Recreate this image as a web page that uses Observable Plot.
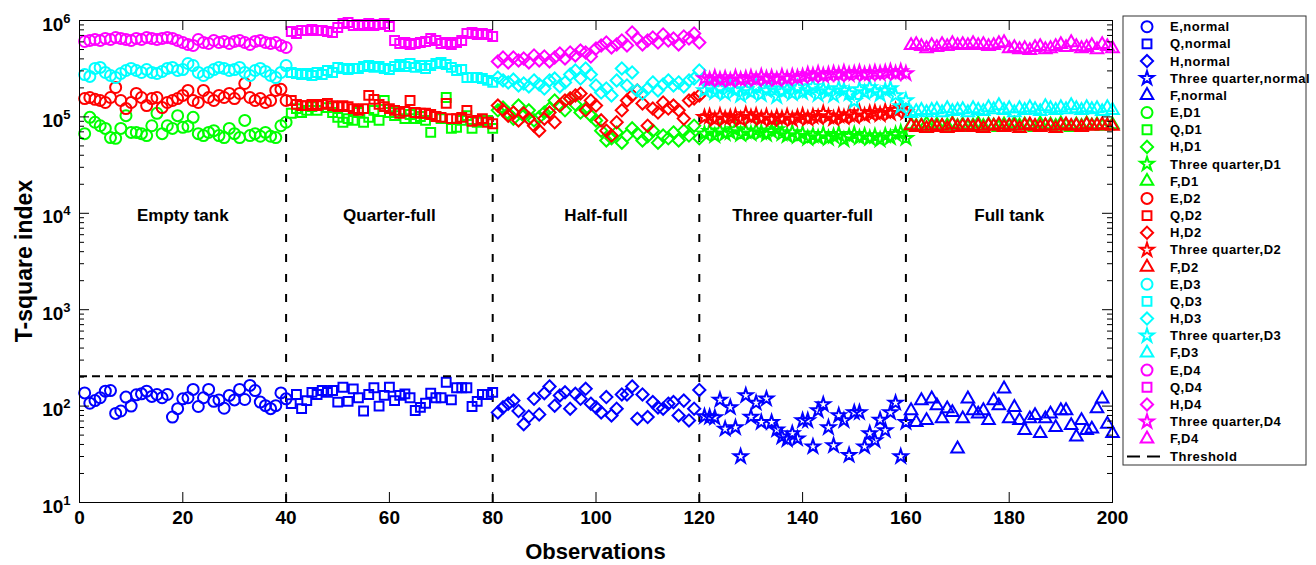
<!DOCTYPE html>
<html>
<head>
<meta charset="utf-8">
<script src="https://cdn.jsdelivr.net/npm/d3@7"></script>
<script src="https://cdn.jsdelivr.net/npm/@observablehq/plot@0.6"></script>
<style>
  body { margin: 0; background: #fff; }
  #chart svg { display: block; }
</style>
</head>
<body>
<div id="chart"></div>
<script>
// ---------------- categories / labels ----------------
const stateNames = ["E", "Q", "H", "Three quarter", "F"];
const condNames = ["normal", "D1", "D2", "D3", "D4"];
const condColors = ["#0000ff", "#00ff00", "#ff0000", "#00ffff", "#ff00ff"];
const regionLabels = ["Empty tank", "Quarter-full", "Half-full", "Three quarter-full", "Full tank"];
const pointsPerState = 40;
const boundaries = [40, 80, 120, 160];
const threshold = 204;
const xTickValues = [0, 20, 40, 60, 80, 100, 120, 140, 160, 180, 200];
const yTickValues = [1e1, 1e2, 1e3, 1e4, 1e5, 1e6];

// ---------------- normal condition (T-square values) ----------------
const eNormal  = [137,107,114,122,143,145,84,89,124,100,131,134,143,126,132,122,132,77,94,119,122,149,99,122,149,112,116,95,129,116,149,117,164,145,110,101,94,101,137,119];
const qNormal  = [106,132,94,114,139,132,145,139,145,110,157,112,151,122,89,132,155,100,129,157,114,129,134,122,90,97,107,136,122,122,177,116,155,155,155,99,112,132,132,139];
const hNormal  = [86,97,106,114,89,65,78,119,82,136,160,101,129,139,94,134,119,151,106,97,86,124,80,94,132,132,160,74,132,77,110,97,94,106,110,80,114,71,94,147];
const tqNormal = [78,77,76,116,58,97,60,30,129,77,108,68,119,68,57,48,45,52,46,71,71,38,90,104,60,39,80,71,31,86,86,38,52,44,72,56,86,108,30,68];
const fNormal  = [90,68,114,71,119,101,74,94,86,36,74,119,90,83,90,71,114,101,151,74,97,71,56,74,80,52,74,83,60,90,90,63,48,71,56,58,94,119,65,52];

// ---------------- fault conditions (T-square values, in thousands) ----------------
const eD1K  = [67,99,88,81,76,61,60,76,103,69,69,67,64,81,109,67,81,76,103,78,80,99,67,64,69,72,64,61,76,67,61,92,64,67,63,69,63,61,81,88];
const qD1K  = [109,122,111,117,128,117,135,125,111,99,88,96,92,111,88,99,117,92,148,111,103,111,96,106,96,101,92,69,101,96,159,76,78,92,103,76,88,92,92,76];
const hD1K  = [117,125,109,96,131,103,117,92,99,111,122,148,131,117,155,135,111,122,103,92,72,57,60,69,54,64,76,67,57,63,72,54,64,60,69,57,72,64,81,60];
const tqD1K = [67,71,64,72,67,69,74,66,71,67,72,69,66,71,74,67,64,69,63,67,60,64,61,66,60,63,66,58,63,66,61,64,60,63,58,64,61,66,69,60];
const fD1K  = [83,80,81,85,78,83,80,81,85,80,83,78,81,85,80,83,81,78,83,80,85,81,83,80,78,85,81,83,80,85,81,78,83,80,85,81,83,80,81,83];

const eD2K  = [155,159,152,148,141,159,202,148,122,141,175,159,131,155,159,125,141,148,155,167,188,148,141,188,159,148,167,159,175,155,175,222,159,148,155,141,148,188,193,148];
const qD2K  = [148,135,131,131,135,131,135,138,131,128,131,128,122,117,122,167,152,135,128,122,117,109,114,148,111,109,109,106,101,99,138,96,96,99,117,90,92,96,88,85];
const hD2K  = [131,117,103,111,92,109,96,81,72,96,111,88,131,148,155,167,175,117,148,131,92,72,64,88,117,148,167,188,138,81,122,111,141,122,131,117,96,148,155,167];
const tqD2K = [99,101,94,103,96,99,101,94,106,99,103,96,101,94,99,96,101,94,99,103,96,101,99,109,101,96,103,99,106,101,111,103,109,111,106,114,109,117,122,111];
const fD2K  = [81,78,80,76,81,78,80,76,83,78,80,81,78,80,76,81,80,83,78,81,80,76,81,83,80,78,81,80,76,81,83,80,81,78,83,80,81,83,81,80];

const eD3K  = [275,263,318,326,289,269,256,282,303,318,303,289,310,289,282,296,318,326,303,310,358,341,289,269,289,310,326,318,303,310,326,289,269,303,318,296,269,256,289,341];
const qD3K  = [289,282,275,282,269,289,275,303,289,326,318,310,318,318,333,341,326,333,318,310,333,350,333,358,326,341,318,341,358,367,350,326,303,310,256,256,256,250,239,228];
const hD3K  = [256,239,228,244,212,222,207,239,217,197,239,250,207,228,275,303,250,318,275,212,179,197,167,239,318,212,289,188,175,197,228,188,217,239,212,228,207,239,250,303];
const tqD3K = [188,202,179,197,175,207,188,167,193,179,207,171,188,197,163,184,193,175,202,179,188,207,171,193,184,167,197,188,175,145,193,179,202,184,171,188,197,167,128,148];
const fD3K  = [109,114,117,111,117,119,111,122,114,117,119,111,122,117,114,125,119,131,117,122,111,122,117,125,119,114,128,122,117,125,119,131,122,117,125,119,122,114,125,117];

const eD4K  = [606,620,635,620,651,635,666,651,635,620,651,635,666,651,635,651,666,651,620,591,564,551,635,591,577,620,591,606,577,606,620,591,564,606,620,591,577,591,551,525];
const qD4K  = [769,733,788,788,807,788,788,769,751,846,931,953,888,909,888,931,888,909,931,867,620,577,591,564,577,591,606,651,620,577,591,564,591,620,733,751,716,733,716,683];
const hD4K  = [376,413,367,413,385,404,367,434,385,423,376,413,455,404,466,434,489,466,423,512,551,591,525,564,620,551,751,651,564,620,666,591,716,620,651,564,683,651,733,591];
const tqD4K = [250,244,256,244,250,239,256,244,250,256,244,263,250,256,244,263,250,263,256,263,275,269,282,269,275,282,275,289,275,282,289,275,282,289,282,289,296,282,296,282];
const fD4K  = [551,564,538,512,551,525,564,538,577,551,564,551,577,551,564,538,551,577,591,512,525,500,512,489,525,538,500,512,538,564,525,591,538,512,525,551,500,564,538,512];

// ---------------- build table ----------------
const thousands = a => a.map(v => v * 1000);
const seriesByCond = [
  [eNormal, qNormal, hNormal, tqNormal, fNormal],
  [eD1K, qD1K, hD1K, tqD1K, fD1K].map(thousands),
  [eD2K, qD2K, hD2K, tqD2K, fD2K].map(thousands),
  [eD3K, qD3K, hD3K, tqD3K, fD3K].map(thousands),
  [eD4K, qD4K, hD4K, tqD4K, fD4K].map(thousands)
];
const series = [];
seriesByCond.forEach((arrs, ci) => arrs.forEach((arr, si) => {
  series.push({
    name: `${stateNames[si]},${condNames[ci]}`, si, ci,
    rows: arr.map((v, j) => ({obs: si * pointsPerState + j + 1, value: v}))
  });
}));

// ---------------- styling ----------------
const W = 1316, H = 565;
const mL = 79, mR = 204, mT = 20, mB = 63;
const plotW = W - mL - mR, plotH = H - mT - mB;
const stateSymbols = [d3.symbolCircle, d3.symbolSquare, d3.symbolDiamond2, d3.symbolStar, d3.symbolTriangle2];
const stateRadii = [5.5, 5, 5.5, 4.3, 6];
const FONT = "'Liberation Sans', Arial, Helvetica, sans-serif";

const yMinor = [];
for (let k = 1; k < 6; k++) for (let m = 2; m < 10; m++) yMinor.push(m * 10 ** k);

const dotMarks = series.map(s => Plot.dot(s.rows, {
  x: "obs", y: "value",
  symbol: stateSymbols[s.si], r: stateRadii[s.si],
  stroke: condColors[s.ci], fill: "none", strokeWidth: 2
}));

const chart = Plot.plot({
  width: W, height: H,
  marginLeft: mL, marginRight: mR, marginTop: mT, marginBottom: mB,
  x: {domain: [0, 200], axis: null},
  y: {type: "log", domain: [10, 1e6], axis: null},
  style: {fontFamily: FONT, fontWeight: "bold", background: "white", color: "black", overflow: "visible"},
  marks: [
    Plot.ruleX(boundaries, {x: d => d, y1: yTickValues[0], y2: 1e5, stroke: "black", strokeWidth: 2, strokeDasharray: "8,12"}),
    ...dotMarks,
    Plot.ruleY([threshold], {y: d => d, stroke: "black", strokeWidth: 2, strokeDasharray: "8,5"}),
    Plot.text(regionLabels, {
      x: (d, i) => i * pointsPerState + pointsPerState / 2, y: () => 1e4,
      text: d => d, fontSize: 17, fontWeight: "bold", dy: 2, fill: "black"
    }),
    // ticks (inward)
    Plot.ruleX(xTickValues, {x: d => d, insetTop: plotH - 10, stroke: "black"}),
    Plot.ruleX(xTickValues, {x: d => d, insetBottom: plotH - 10, stroke: "black"}),
    Plot.ruleY(yTickValues, {y: d => d, insetRight: plotW - 10, stroke: "black"}),
    Plot.ruleY(yTickValues, {y: d => d, insetLeft: plotW - 10, stroke: "black"}),
    Plot.ruleY(yMinor, {y: d => d, insetRight: plotW - 5, stroke: "black"}),
    Plot.ruleY(yMinor, {y: d => d, insetLeft: plotW - 5, stroke: "black"}),
    Plot.frame({stroke: "black", strokeWidth: 1}),
    // tick labels
    Plot.text(xTickValues, {x: d => d, frameAnchor: "bottom", dy: 21, text: d => String(d), fontSize: 19, fill: "black"}),
    Plot.text(yTickValues, {
      y: d => d, frameAnchor: "left", dx: -9, dy: 4, textAnchor: "end",
      text: d => "10^" + Math.round(Math.log10(d)), fontSize: 19, fill: "black"
    })
  ]
});
document.getElementById("chart").appendChild(chart);

const svg = d3.select(chart);
// superscript exponents on y tick labels
svg.selectAll("text").filter(function () { return this.textContent.includes("^"); }).each(function () {
  const t = d3.select(this);
  const [base, ex] = t.text().split("^");
  t.text(base);
  t.append("tspan").attr("dy", -8).attr("font-size", 13).text(ex);
});

// axis titles
svg.append("text").attr("x", mL + plotW / 2).attr("y", H - mB + 49).attr("dy", "0.35em")
  .attr("text-anchor", "middle").attr("font-family", FONT).attr("font-weight", "bold")
  .attr("font-size", 22).attr("fill", "black").text("Observations");
svg.append("text").attr("transform", `translate(24,${mT + plotH / 2}) rotate(-90)`).attr("dy", "0.35em")
  .attr("text-anchor", "middle").attr("font-family", FONT).attr("font-weight", "bold")
  .attr("font-size", 23).attr("fill", "black").text("T-square index");

// ---------------- legend ----------------
const lg = svg.append("g").attr("font-family", FONT).attr("font-weight", "bold")
  .attr("font-size", 13).attr("text-anchor", "start");
lg.append("rect").attr("x", 1123).attr("y", 16).attr("width", 183).attr("height", 449)
  .attr("fill", "white").attr("stroke", "#333").attr("stroke-width", 1);
const rowH = 17.17, y0 = 26.7;
series.forEach((s, k) => {
  const y = y0 + k * rowH;
  lg.append("path")
    .attr("transform", `translate(1147,${y})`)
    .attr("d", d3.symbol(stateSymbols[s.si], Math.PI * stateRadii[s.si] ** 2)())
    .attr("fill", "none").attr("stroke", condColors[s.ci]).attr("stroke-width", 2);
  lg.append("text").attr("x", 1170).attr("y", y).attr("dy", "0.35em").attr("fill", "black")
    .attr("textLength", null).style("letter-spacing", "0.5px").text(s.name);
});
const ty = y0 + series.length * rowH + 0.5;
lg.append("line").attr("x1", 1127).attr("x2", 1165).attr("y1", ty).attr("y2", ty)
  .attr("stroke", "black").attr("stroke-width", 2).attr("stroke-dasharray", "13,7");
lg.append("text").attr("x", 1170).attr("y", ty).attr("dy", "0.35em").attr("fill", "black")
  .style("letter-spacing", "0.5px").text("Threshold");
</script>
</body>
</html>
